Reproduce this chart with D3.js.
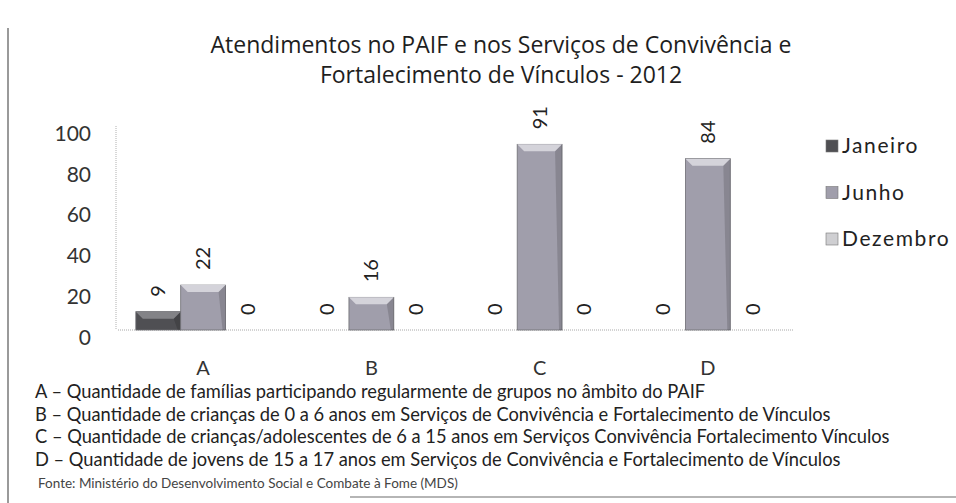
<!DOCTYPE html>
<html>
  <head>
    <meta charset="utf-8">
    <title>Atendimentos no PAIF 2012</title>
    <script src="https://cdn.jsdelivr.net/npm/d3@7"></script>
    <style>
      body { margin: 0; background: #fff; }
      svg { display: block; font-family: Lato, "Open Sans", sans-serif; }
      .tick text { fill: #333; }
    </style>
  </head>

  <body>
    <svg id="chart" width="956" height="503"></svg>

    <script>
      // chart values
      const categories = ["A", "B", "C", "D"];
      const series = ["Janeiro", "Junho", "Dezembro"];
      const janeiro = [9, 0, 0, 0];
      const junho = [22, 16, 91, 84];
      const dezembro = [0, 0, 0, 0];
      const yTicks = [0, 20, 40, 60, 80, 100];
      const titleLines = [
        "Atendimentos no PAIF e nos Serviços de Convivência e",
        "Fortalecimento de Vínculos - 2012"
      ];
      const notes = [
        "A – Quantidade de famílias participando regularmente de grupos no âmbito do PAIF",
        "B – Quantidade de crianças de 0 a 6 anos em Serviços de Convivência e Fortalecimento de Vínculos",
        "C – Quantidade de crianças/adolescentes de 6 a 15 anos em Serviços Convivência Fortalecimento Vínculos",
        "D – Quantidade de jovens de 15 a 17 anos em Serviços de Convivência e Fortalecimento de Vínculos"
      ];
      const source = "Fonte: Ministério do Desenvolvimento Social e Combate à Fome (MDS)";

      // colours per series: body, bevel
      const colours = {
        Janeiro: ["#4f4f53", "#838387"],
        Junho: ["#a09eab", "#d4d3da"],
        Dezembro: ["#cfcfd2", "#ececee"]
      };

      const values = [janeiro, junho, dezembro];
      const rows = [];
      categories.forEach(function(c, i) {
        series.forEach(function(s, j) {
          rows.push({cat: c, series: s, value: values[j][i]});
        });
      });

      const svg = d3.select("#chart");

      // scan frame
      svg.append("line")
        .attr("x1", 8).attr("x2", 8)
        .attr("y1", 28).attr("y2", 503)
        .attr("stroke", "#9a9a9a")
        .attr("stroke-width", 2);
      svg.append("line")
        .attr("x1", 350).attr("x2", 956)
        .attr("y1", 497).attr("y2", 497)
        .attr("stroke", "#b5b5b5")
        .attr("stroke-width", 2);

      // title
      svg.append("g")
        .selectAll("text")
        .data(titleLines)
        .join("text")
          .attr("x", 501)
          .attr("y", function(d, i) { return 53 + i * 30; })
          .attr("text-anchor", "middle")
          .attr("font-family", "'Open Sans', sans-serif")
          .attr("font-size", 23)
          .attr("fill", "#1e1e1e")
          .text(function(d) { return d; });

      // scales
      const x0 = d3.scaleBand()
        .domain(categories)
        .range([119, 792])
        .paddingInner(0.2)
        .paddingOuter(0.1);
      const x1 = d3.scaleBand()
        .domain(series)
        .range([0, x0.bandwidth()]);
      const y = d3.scaleLinear()
        .domain([0, 100])
        .range([330, 126]);

      // axes lines (dotted)
      svg.append("line")
        .attr("x1", 116).attr("x2", 116)
        .attr("y1", y(100)).attr("y2", y(0))
        .attr("stroke", "#b0b0b0")
        .attr("stroke-dasharray", "1,1");
      svg.append("line")
        .attr("x1", 118).attr("x2", 794)
        .attr("y1", y(0)).attr("y2", y(0))
        .attr("stroke", "#a8a8a8")
        .attr("stroke-dasharray", "1,1");

      // y axis
      const yAxis = svg.append("g")
        .attr("transform", "translate(91,0)")
        .call(d3.axisLeft(y).tickValues(yTicks).tickSize(0).tickPadding(0));
      yAxis.select(".domain").remove();
      yAxis.selectAll("text")
        .attr("font-size", 21)
        .attr("font-family", "Lato, sans-serif")
        .attr("dy", "0.68em");

      // x labels
      const xAxis = svg.append("g")
        .attr("transform", "translate(0,360)")
        .call(d3.axisBottom(x0).tickSize(0).tickPadding(0));
      xAxis.select(".domain").remove();
      xAxis.selectAll("text")
        .attr("font-size", 20)
        .attr("font-family", "Lato, sans-serif")
        .attr("dy", "0.35em")
        .attr("y", 8);

      // bars
      const bars = svg.append("g")
        .selectAll("g")
        .data(rows.filter(function(d) { return d.value > 0; }))
        .join("g")
          .attr("transform", function(d) {
            return "translate(" + (x0(d.cat) + x1(d.series)) + ",0)";
          });
      bars.append("rect")
        .attr("x", 0)
        .attr("width", x1.bandwidth())
        .attr("y", function(d) { return y(d.value); })
        .attr("height", function(d) { return y(0) - y(d.value); })
        .attr("fill", function(d) { return colours[d.series][0]; })
        .attr("stroke", "#6e6e74")
        .attr("stroke-width", 0.8);
      // bevel on top
      bars.append("path")
        .attr("d", function(d) {
          const w = x1.bandwidth(), t = y(d.value), b = 7;
          return "M0," + t + "L" + w + "," + t + "L" + (w - b) + "," + (t + b) +
            "L" + b + "," + (t + b) + "Z";
        })
        .attr("fill", function(d) { return colours[d.series][1]; });
      bars.append("path")
        .attr("d", function(d) {
          const w = x1.bandwidth(), t = y(d.value), b = 7;
          return "M" + w + "," + t + "L" + w + "," + y(0) + "L" + (w - 3) + "," + y(0) +
            "L" + (w - b) + "," + (t + b) + "Z";
        })
        .attr("fill", "#000")
        .attr("opacity", 0.15);

      // value labels
      svg.append("g")
        .selectAll("text")
        .data(rows)
        .join("text")
          .attr("transform", function(d) {
            const cx = x0(d.cat) + x1(d.series) + x1.bandwidth() / 2;
            return "translate(" + cx + "," + (y(d.value) - 15) + ") rotate(-90)";
          })
          .attr("dy", "0.35em")
          .attr("font-size", 20)
          .attr("fill", "#222")
          .text(function(d) { return d.value; });

      // legend
      const legend = svg.append("g")
        .selectAll("g")
        .data(series)
        .join("g")
          .attr("transform", function(d, i) {
            return "translate(826," + (146 + i * 46.5) + ")";
          });
      legend.append("rect")
        .attr("x", 0).attr("y", -6)
        .attr("width", 12).attr("height", 12)
        .attr("fill", function(d) { return colours[d][0]; })
        .attr("stroke", "#777")
        .attr("stroke-width", 0.6);
      legend.append("text")
        .attr("x", 16)
        .attr("dy", "0.35em")
        .attr("font-size", 21)
        .attr("letter-spacing", 1.6)
        .attr("fill", "#222")
        .text(function(d) { return d; });

      // notes
      svg.append("g")
        .selectAll("text")
        .data(notes)
        .join("text")
          .attr("x", 35)
          .attr("y", function(d, i) { return 398 + i * 22.5; })
          .attr("font-size", 18.3)
          .attr("fill", "#222")
          .text(function(d) { return d; });
      svg.append("text")
        .attr("x", 38)
        .attr("y", 488)
        .attr("font-size", 13.5)
        .attr("fill", "#444")
        .text(source);
    </script>
  </body>
</html>
